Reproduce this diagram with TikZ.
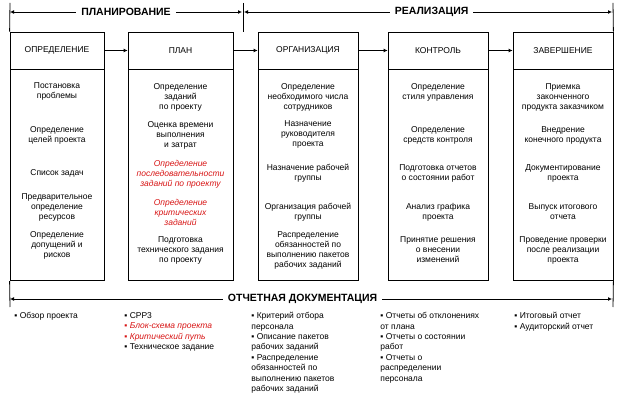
\documentclass[tikz,border=0pt]{standalone}
\usepackage{fontspec}
\setmainfont{Liberation Sans}
\usepackage{xcolor}
\usetikzlibrary{arrows.meta}
\definecolor{docred}{RGB}{215,20,20}
\newcommand{\sm}{\fontsize{8.5}{10}\selectfont}

\begin{document}
\begin{tikzpicture}[x=1pt, y=-1pt, line width=0.8pt,
  hd/.style={draw, minimum height=37pt, inner sep=0pt, font=\sm},
  bd/.style={draw, minimum height=211pt, inner sep=0pt},
  item/.style={align=center, inner sep=0pt, font=\sm},
  lst/.style={align=left, anchor=north west, inner sep=0pt, font=\fontsize{8.5}{10.4}\selectfont},
  ttl/.style={fill=white, inner xsep=5pt, font=\fontsize{10.5}{12}\selectfont\bfseries},
  arr/.style={-{Latex[length=4pt,width=4pt]}},
  dim/.style={{Latex[length=4pt,width=4pt]}-{Latex[length=4pt,width=4pt]}}]
\useasboundingbox (0,0) rectangle (628,403);
% column heads and bodies
\node[hd, minimum width=94pt] (opr) at (57,50.5) {ОПРЕДЕЛЕНИЕ};
\node[hd, minimum width=105pt] (plan) at (180.5,50.5) {ПЛАН};
\node[hd, minimum width=100pt] (org) at (308,50.5) {ОРГАНИЗАЦИЯ};
\node[hd, minimum width=100pt] (ktr) at (438,50.5) {КОНТРОЛЬ};
\node[hd, minimum width=100pt] (zav) at (563,50.5) {ЗАВЕРШЕНИЕ};
\node[bd, minimum width=94pt, anchor=north] (oprb) at (opr.south) {};
\node[bd, minimum width=105pt, anchor=north] (planb) at (plan.south) {};
\node[bd, minimum width=100pt, anchor=north] (orgb) at (org.south) {};
\node[bd, minimum width=100pt, anchor=north] (ktrb) at (ktr.south) {};
\node[bd, minimum width=100pt, anchor=north] (zavb) at (zav.south) {};
\draw[arr] (opr) -- (plan); \draw[arr] (plan) -- (org);
\draw[arr] (org) -- (ktr); \draw[arr] (ktr) -- (zav);

% phases on top
\coordinate (p0) at (10,3); \coordinate (p1) at (243,3); \coordinate (p2) at (613,3);
\coordinate (pm) at (243,32);
\coordinate (a0) at (10,12); \coordinate (a1) at (242,12);
\coordinate (a2) at (244,12); \coordinate (a3) at (612,12);
\draw (p0) -- (opr.north west); \draw (p1) -- (pm); \draw (p2) -- (zav.north east);
\draw[dim] (a0) -- node[ttl] (plt) {ПЛАНИРОВАНИЕ} (a1);
\draw[dim] (a2) -- node[ttl, pos=0.51] (rlt) {РЕАЛИЗАЦИЯ} (a3);

% tasks in each column
\foreach \y/\t [count=\i] in {91.5/Постановка\\проблемы, 135/Определение\\целей проекта,
    173/Список задач, 207/Предварительное\\определение\\ресурсов,
    245/Определение\\допущений и\\рисков}
  \node[item] (o\i) at (57,\y) {\t};
\node[item] (p1t) at (180.5,97) {Определение\\заданий\\по проекту};
\node[item] (p2t) at (180.5,135) {Оценка времени\\выполнения\\и затрат};
\node[item, text=docred, font=\sm\itshape] (p3t) at (180.5,174) {Определение\\последовательности\\заданий по проекту};
\node[item, text=docred, font=\sm\itshape] (p4t) at (180.5,212) {Определение\\критических\\заданий};
\node[item] (p5t) at (180.5,250) {Подготовка\\технического задания\\по проекту};
\foreach \y/\t [count=\i] in {97/Определение\\необходимого числа\\сотрудников,
    134/Назначение\\руководителя\\проекта, 173/Назначение рабочей\\группы,
    212/Организация рабочей\\группы,
    250/Распределение\\обязанностей по\\выполнению пакетов\\рабочих заданий}
  \node[item] (g\i) at (308,\y) {\t};
\foreach \y/\t [count=\i] in {92/Определение\\стиля управления,
    135/Определение\\средств контроля, 173/Подготовка отчетов\\о состоянии работ,
    212/Анализ графика\\проекта, 250/Принятие решения\\о внесении\\изменений}
  \node[item] (k\i) at (438,\y) {\t};
\foreach \y/\t [count=\i] in {97/Приемка\\законченного\\продукта заказчиком,
    135/Внедрение\\конечного продукта, 173/Документирование\\проекта,
    212/Выпуск итогового\\отчета, 250/Проведение проверки\\после реализации\\проекта}
  \node[item] (z\i) at (563,\y) {\t};

% documents
\coordinate (d0) at (10,307); \coordinate (d1) at (613,307);
\coordinate (b0) at (10,299); \coordinate (b1) at (612,299);
\draw (oprb.south west) -- (d0); \draw (zavb.south east) -- (d1);
\draw[dim] (b0) -- node[ttl, pos=0.486] (dct) {ОТЧЕТНАЯ ДОКУМЕНТАЦИЯ} (b1);

\node[lst] (l1) at (14,312) {▪ Обзор проекта};
\node[lst] (l2) at (124,312) {▪ СРР3\\{\color{docred}\itshape ▪ Блок-схема проекта}\\
  {\color{docred}\itshape ▪ Критический путь}\\▪ Техническое задание};
\node[lst] (l3) at (251,312) {▪ Критерий отбора\\персонала\\▪ Описание пакетов\\рабочих заданий\\
  ▪ Распределение\\обязанностей по\\выполнению пакетов\\рабочих заданий};
\node[lst] (l4) at (380,312) {▪ Отчеты об отклонениях\\от плана\\▪ Отчеты о состоянии\\работ\\
  ▪ Отчеты о\\распределении\\персонала};
\node[lst] (l5) at (514,312) {▪ Итоговый отчет\\▪ Аудиторский отчет};
\end{tikzpicture}
\end{document}
